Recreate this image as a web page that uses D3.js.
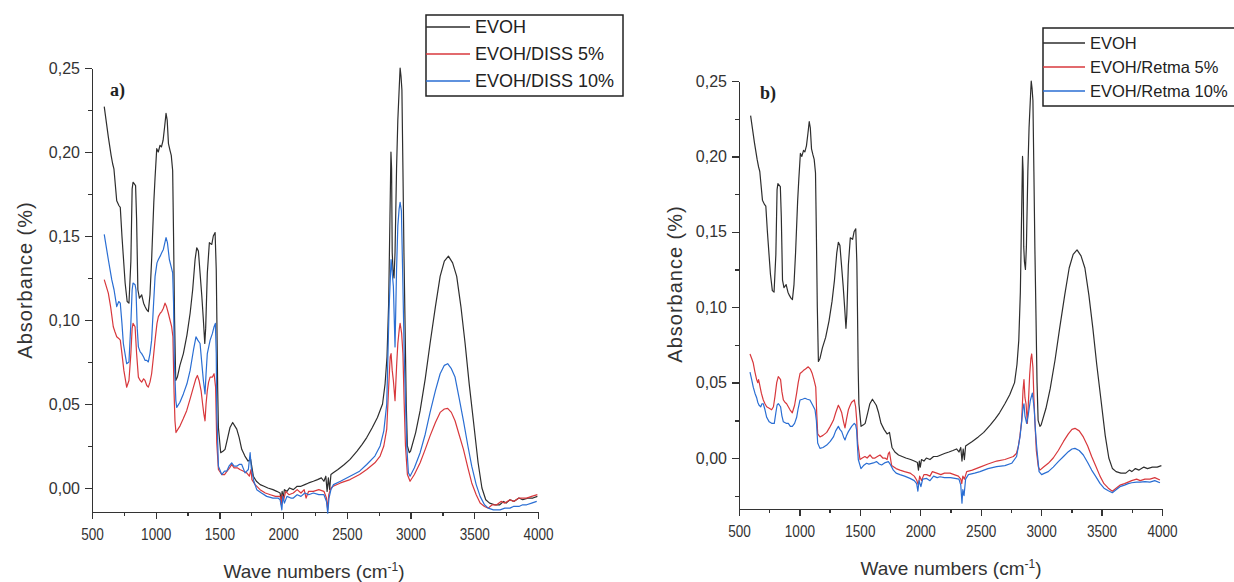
<!DOCTYPE html>
<html>
<head>
<meta charset="utf-8">
<script src="https://cdn.jsdelivr.net/npm/d3@7/dist/d3.min.js"></script>
<style>
  body { margin: 0; background: #fff; }
  svg { display: block; font-family: "Liberation Sans", Arial, sans-serif; }
  .axis path, .axis line { stroke: #333; stroke-width: 1.4; shape-rendering: crispEdges; }
  .axis text { fill: #333; font-size: 16px; }
  .xaxis text { font-size: 17px; transform-box: fill-box; transform-origin: center; transform: scaleX(0.8); }
  .spec { fill: none; stroke-width: 1.2; stroke-linejoin: round; }
</style>
</head>
<body>
<svg id="chart" width="1234" height="582"></svg>
<script>
// FTIR spectra: [wavenumber (cm-1), absorbance]
const evoh = [
  [596,0.227],[628,0.209],[650,0.198],[662,0.193],[672,0.190],[694,0.171],[712,0.168],[722,0.167],
  [735,0.150],[760,0.122],[776,0.111],[790,0.110],[805,0.135],[815,0.178],[822,0.182],[842,0.180],
  [850,0.160],[860,0.118],[872,0.113],[890,0.115],[905,0.110],[916,0.108],[930,0.106],[942,0.105],
  [955,0.115],[968,0.136],[985,0.170],[995,0.185],[1008,0.202],[1020,0.200],[1034,0.204],[1045,0.203],
  [1058,0.207],[1070,0.215],[1081,0.223],[1090,0.219],[1100,0.205],[1112,0.201],[1122,0.198],[1133,0.189],
  [1140,0.150],[1148,0.100],[1157,0.064],[1170,0.066],[1190,0.073],[1217,0.080],[1245,0.091],[1270,0.104],
  [1290,0.118],[1309,0.136],[1322,0.143],[1335,0.141],[1348,0.128],[1362,0.114],[1374,0.100],[1385,0.086],
  [1392,0.095],[1405,0.128],[1421,0.146],[1440,0.145],[1452,0.150],[1466,0.152],[1475,0.130],[1480,0.100],
  [1486,0.060],[1492,0.036],[1510,0.021],[1530,0.022],[1544,0.023],[1565,0.030],[1583,0.036],[1604,0.039],
  [1620,0.037],[1636,0.035],[1655,0.030],[1675,0.023],[1700,0.019],[1725,0.016],[1745,0.017],[1766,0.007],
  [1790,0.004],[1820,0.002],[1850,0.001],[1880,0.000],[1920,-0.001],[1950,-0.002],[1976,-0.003],[1985,-0.008],
  [1992,-0.002],[2000,-0.006],[2010,-0.001],[2030,-0.002],[2050,0.000],[2080,-0.001],[2110,0.001],[2140,0.001],
  [2170,0.002],[2200,0.003],[2237,0.004],[2270,0.005],[2300,0.006],[2320,0.004],[2335,0.007],[2345,-0.002],
  [2355,0.006],[2365,-0.001],[2375,0.008],[2393,0.009],[2430,0.011],[2480,0.014],[2525,0.017],[2580,0.022],
  [2620,0.026],[2656,0.030],[2700,0.036],[2740,0.042],[2780,0.050],[2800,0.062],[2815,0.078],[2828,0.110],
  [2838,0.160],[2846,0.200],[2851,0.190],[2856,0.140],[2862,0.130],[2870,0.125],[2878,0.140],[2890,0.190],
  [2900,0.219],[2912,0.240],[2918,0.250],[2925,0.245],[2932,0.237],[2940,0.190],[2948,0.140],[2957,0.096],
  [2966,0.050],[2975,0.025],[2990,0.021],[3000,0.022],[3040,0.033],[3075,0.046],[3115,0.065],[3153,0.086],
  [3195,0.108],[3232,0.126],[3265,0.135],[3297,0.138],[3330,0.134],[3362,0.126],[3395,0.108],[3428,0.086],
  [3460,0.062],[3493,0.040],[3530,0.015],[3560,0.000],[3590,-0.007],[3620,-0.009],[3660,-0.010],[3700,-0.010],
  [3730,-0.008],[3750,-0.009],[3780,-0.007],[3810,-0.008],[3850,-0.006],[3880,-0.007],[3920,-0.006],[3960,-0.006],
  [3995,-0.005]
];

const evohDiss5 = [
  [596,0.124],[628,0.116],[646,0.108],[667,0.096],[680,0.093],[694,0.090],[710,0.089],[722,0.088],
  [735,0.080],[750,0.070],[772,0.060],[790,0.064],[805,0.080],[815,0.095],[822,0.098],[838,0.096],
  [850,0.080],[864,0.066],[878,0.064],[890,0.063],[905,0.065],[916,0.064],[930,0.061],[942,0.060],
  [955,0.063],[968,0.068],[982,0.078],[995,0.088],[1010,0.098],[1021,0.102],[1035,0.104],[1047,0.105],
  [1060,0.107],[1073,0.110],[1085,0.108],[1099,0.104],[1112,0.100],[1125,0.096],[1135,0.090],[1144,0.057],
  [1151,0.040],[1159,0.033],[1175,0.035],[1191,0.037],[1215,0.041],[1243,0.046],[1270,0.053],[1296,0.060],
  [1315,0.065],[1327,0.067],[1340,0.064],[1356,0.058],[1368,0.050],[1378,0.044],[1387,0.040],[1395,0.050],
  [1405,0.058],[1415,0.063],[1427,0.066],[1445,0.066],[1458,0.068],[1470,0.060],[1479,0.027],[1492,0.011],
  [1518,0.008],[1540,0.008],[1560,0.010],[1580,0.012],[1596,0.014],[1615,0.012],[1640,0.012],[1660,0.011],
  [1690,0.010],[1714,0.009],[1735,0.007],[1748,0.011],[1755,0.005],[1780,0.002],[1819,-0.001],[1860,-0.003],
  [1900,-0.004],[1940,-0.005],[1976,-0.005],[1985,-0.010],[1992,-0.004],[2005,-0.007],[2020,-0.002],[2045,-0.004],
  [2080,-0.003],[2110,-0.001],[2140,-0.003],[2165,-0.001],[2180,-0.006],[2200,-0.002],[2237,-0.002],[2280,-0.001],
  [2320,-0.002],[2340,-0.006],[2350,-0.013],[2358,-0.004],[2375,0.000],[2393,0.001],[2450,0.003],[2525,0.005],
  [2600,0.008],[2656,0.011],[2720,0.015],[2761,0.019],[2790,0.025],[2813,0.035],[2828,0.060],[2840,0.078],
  [2847,0.080],[2856,0.070],[2865,0.064],[2878,0.052],[2890,0.072],[2900,0.086],[2912,0.095],[2918,0.098],
  [2930,0.092],[2940,0.080],[2950,0.050],[2960,0.025],[2975,0.008],[2996,0.004],[3030,0.008],[3075,0.015],
  [3115,0.023],[3153,0.031],[3195,0.039],[3232,0.045],[3265,0.047],[3291,0.0474],[3320,0.045],[3349,0.040],
  [3380,0.032],[3415,0.023],[3450,0.012],[3480,0.003],[3515,-0.004],[3546,-0.009],[3580,-0.011],[3610,-0.012],
  [3640,-0.010],[3676,-0.010],[3710,-0.008],[3740,-0.009],[3780,-0.007],[3810,-0.008],[3850,-0.006],[3880,-0.006],
  [3911,-0.006],[3950,-0.005],[3995,-0.004]
];

const evohDiss10 = [
  [596,0.151],[628,0.136],[655,0.124],[673,0.118],[694,0.108],[710,0.111],[722,0.110],[735,0.098],
  [746,0.086],[772,0.074],[790,0.075],[805,0.098],[815,0.118],[822,0.122],[838,0.121],[845,0.118],
  [855,0.095],[864,0.084],[878,0.081],[890,0.080],[905,0.078],[916,0.076],[930,0.076],[942,0.075],
  [955,0.080],[968,0.088],[982,0.108],[995,0.126],[1010,0.134],[1021,0.136],[1035,0.138],[1047,0.140],
  [1060,0.142],[1072,0.146],[1081,0.149],[1092,0.146],[1107,0.136],[1120,0.132],[1133,0.128],[1140,0.110],
  [1146,0.076],[1158,0.052],[1165,0.048],[1190,0.051],[1217,0.056],[1245,0.062],[1270,0.070],[1296,0.082],
  [1316,0.090],[1330,0.088],[1348,0.086],[1362,0.074],[1374,0.064],[1387,0.056],[1395,0.068],[1405,0.080],
  [1427,0.088],[1445,0.092],[1458,0.096],[1468,0.098],[1475,0.080],[1479,0.046],[1492,0.013],[1518,0.008],
  [1540,0.010],[1557,0.010],[1575,0.013],[1596,0.015],[1615,0.013],[1636,0.013],[1655,0.014],[1675,0.014],
  [1701,0.009],[1727,0.011],[1741,0.021],[1750,0.012],[1770,0.004],[1793,-0.001],[1830,-0.003],[1871,-0.005],
  [1920,-0.006],[1960,-0.006],[1976,-0.007],[1990,-0.013],[1998,-0.005],[2010,-0.009],[2030,-0.005],[2060,-0.006],
  [2080,-0.006],[2110,-0.004],[2140,-0.005],[2170,-0.003],[2200,-0.004],[2237,-0.003],[2280,-0.004],[2320,-0.004],
  [2340,-0.008],[2350,-0.015],[2360,-0.006],[2375,-0.001],[2395,0.002],[2450,0.004],[2525,0.007],[2600,0.010],
  [2656,0.014],[2720,0.019],[2761,0.025],[2790,0.034],[2813,0.050],[2831,0.106],[2847,0.136],[2856,0.128],
  [2865,0.120],[2878,0.084],[2890,0.130],[2900,0.156],[2910,0.166],[2918,0.170],[2928,0.165],[2940,0.120],
  [2950,0.080],[2957,0.060],[2970,0.025],[2983,0.009],[2996,0.007],[3030,0.012],[3075,0.021],[3115,0.032],
  [3153,0.045],[3195,0.058],[3232,0.068],[3265,0.073],[3291,0.074],[3320,0.071],[3349,0.066],[3380,0.054],
  [3415,0.040],[3450,0.025],[3480,0.013],[3515,0.002],[3546,-0.005],[3580,-0.010],[3610,-0.012],[3650,-0.013],
  [3702,-0.013],[3740,-0.012],[3780,-0.012],[3807,-0.011],[3850,-0.011],[3880,-0.010],[3911,-0.010],[3950,-0.009],
  [3990,-0.008]
];

const evohRetma5 = [
  [591,0.069],[605,0.066],[618,0.063],[632,0.057],[646,0.052],[655,0.050],[662,0.052],[670,0.049],
  [685,0.043],[701,0.0385],[715,0.036],[729,0.034],[750,0.033],[770,0.032],[785,0.034],[798,0.041],
  [812,0.050],[825,0.054],[835,0.053],[844,0.052],[855,0.044],[867,0.0385],[880,0.037],[894,0.036],
  [908,0.034],[922,0.032],[941,0.030],[960,0.035],[977,0.043],[990,0.050],[1005,0.056],[1020,0.057],
  [1032,0.058],[1050,0.059],[1073,0.0605],[1090,0.059],[1106,0.056],[1120,0.052],[1135,0.047],[1143,0.030],
  [1151,0.016],[1170,0.014],[1195,0.015],[1226,0.017],[1255,0.021],[1281,0.025],[1300,0.030],[1322,0.035],
  [1335,0.033],[1350,0.030],[1365,0.024],[1377,0.020],[1390,0.026],[1405,0.032],[1420,0.035],[1432,0.037],
  [1454,0.0385],[1465,0.034],[1474,0.025],[1482,0.010],[1501,-0.001],[1520,0.000],[1542,0.001],[1560,0.000],
  [1584,0.002],[1605,0.000],[1625,0.000],[1645,0.001],[1667,0.002],[1690,0.000],[1708,0.000],[1725,-0.001],
  [1736,0.003],[1745,0.004],[1763,-0.005],[1800,-0.007],[1832,-0.008],[1870,-0.009],[1915,-0.010],[1950,-0.012],
  [1970,-0.0146],[1984,-0.018],[1995,-0.012],[2010,-0.015],[2030,-0.011],[2053,-0.011],[2080,-0.012],[2100,-0.009],
  [2136,-0.010],[2170,-0.011],[2200,-0.010],[2246,-0.010],[2280,-0.011],[2315,-0.012],[2335,-0.014],[2343,-0.017],
  [2352,-0.012],[2365,-0.014],[2384,-0.009],[2430,-0.008],[2494,-0.006],[2560,-0.004],[2632,-0.002],[2700,-0.001],
  [2770,0.001],[2795,0.003],[2811,0.0075],[2825,0.015],[2839,0.025],[2850,0.045],[2858,0.052],[2866,0.040],
  [2875,0.036],[2886,0.023],[2894,0.036],[2905,0.055],[2915,0.066],[2922,0.069],[2932,0.060],[2940,0.040],
  [2949,0.023],[2960,0.005],[2977,-0.006],[2990,-0.008],[3020,-0.006],[3059,-0.0035],[3100,0.000],[3142,0.005],
  [3185,0.011],[3225,0.016],[3255,0.019],[3280,0.0197],[3315,0.018],[3349,0.014],[3385,0.008],[3418,0.001],
  [3450,-0.005],[3487,-0.012],[3520,-0.017],[3556,-0.020],[3589,-0.022],[3620,-0.020],[3652,-0.018],[3690,-0.017],
  [3720,-0.016],[3749,-0.015],[3790,-0.014],[3820,-0.015],[3859,-0.014],[3900,-0.014],[3940,-0.013],[3983,-0.0146]
];

const evohRetma10 = [
  [591,0.057],[605,0.052],[618,0.047],[632,0.043],[646,0.040],[655,0.037],[666,0.035],[680,0.034],
  [690,0.036],[701,0.036],[715,0.032],[729,0.027],[750,0.024],[770,0.023],[792,0.023],[805,0.030],
  [815,0.035],[825,0.036],[835,0.035],[844,0.034],[855,0.028],[867,0.024],[890,0.023],[908,0.023],
  [925,0.021],[941,0.021],[960,0.023],[977,0.027],[990,0.033],[1005,0.0385],[1025,0.039],[1046,0.0396],
  [1065,0.039],[1087,0.0385],[1110,0.035],[1129,0.032],[1140,0.025],[1151,0.010],[1170,0.0064],[1195,0.007],
  [1226,0.0086],[1255,0.011],[1281,0.014],[1300,0.018],[1322,0.021],[1335,0.019],[1350,0.0175],[1365,0.014],
  [1377,0.012],[1390,0.015],[1405,0.0175],[1432,0.021],[1454,0.023],[1465,0.022],[1473,0.0186],[1480,0.008],
  [1487,-0.001],[1509,-0.007],[1530,-0.005],[1556,-0.0035],[1575,-0.004],[1597,-0.0035],[1620,-0.003],[1639,-0.0024],
  [1660,-0.004],[1680,-0.0046],[1710,-0.003],[1736,-0.0024],[1750,-0.004],[1777,-0.008],[1800,-0.010],[1832,-0.011],
  [1870,-0.012],[1915,-0.0135],[1950,-0.015],[1970,-0.017],[1980,-0.022],[1990,-0.015],[2005,-0.019],[2020,-0.014],
  [2053,-0.0135],[2080,-0.015],[2110,-0.012],[2140,-0.013],[2163,-0.0124],[2200,-0.013],[2250,-0.013],[2287,-0.0135],
  [2320,-0.014],[2335,-0.018],[2345,-0.030],[2352,-0.021],[2362,-0.025],[2375,-0.014],[2398,-0.011],[2450,-0.010],
  [2494,-0.009],[2560,-0.007],[2632,-0.0057],[2700,-0.005],[2756,-0.0035],[2797,0.001],[2825,0.014],[2840,0.025],
  [2850,0.033],[2858,0.036],[2866,0.028],[2880,0.023],[2894,0.029],[2910,0.038],[2927,0.043],[2935,0.038],
  [2943,0.032],[2953,0.018],[2963,0.0075],[2983,-0.009],[3004,-0.011],[3030,-0.010],[3059,-0.009],[3100,-0.006],
  [3142,-0.0024],[3185,0.001],[3225,0.0042],[3255,0.006],[3280,0.0064],[3315,0.005],[3349,0.002],[3385,-0.003],
  [3418,-0.008],[3450,-0.012],[3487,-0.0168],[3520,-0.020],[3556,-0.0217],[3589,-0.023],[3620,-0.021],[3652,-0.019],
  [3690,-0.018],[3720,-0.017],[3749,-0.0164],[3790,-0.016],[3820,-0.016],[3859,-0.0157],[3900,-0.016],[3940,-0.015],
  [3983,-0.0164]
];

// Axis ticks
const wavenumberTicks = [500, 1000, 1500, 2000, 2500, 3000, 3500, 4000];
const wavenumberMinor = [750, 1250, 1750, 2250, 2750, 3250, 3750];
const absorbanceTicks = [0, 0.05, 0.10, 0.15, 0.20, 0.25];
const absorbanceMinor = [-0.025, 0.025, 0.075, 0.125, 0.175, 0.225];

// Legend labels
const labelsDiss = ["EVOH", "EVOH/DISS 5%", "EVOH/DISS 10%"];
const labelsRetma = ["EVOH", "EVOH/Retma 5%", "EVOH/Retma 10%"];
const seriesColors = ["#2e2e2e", "#d8383c", "#2a6ed3"];

const svg = d3.select("#chart");
const commaFmt = d => d3.format(".2f")(d).replace(".", ",");

function drawPanel(p) {
  const x = d3.scaleLinear().domain([500, 4000]).range([p.left, p.right]);
  const y = d3.scaleLinear().domain([p.yMin, 0.25]).range([p.bottom, p.top]);
  const g = svg.append("g");

  // minor ticks
  g.append("g").attr("class", "axis minor")
    .attr("transform", `translate(0,${p.bottom})`)
    .call(d3.axisBottom(x).tickValues(wavenumberMinor).tickSize(4).tickFormat(""))
    .call(a => a.select(".domain").remove());
  g.append("g").attr("class", "axis minor")
    .attr("transform", `translate(${p.left},0)`)
    .call(d3.axisLeft(y).tickValues(absorbanceMinor.filter(v => v >= p.yMin)).tickSize(4).tickFormat(""))
    .call(a => a.select(".domain").remove());

  // major axes
  g.append("g").attr("class", "axis xaxis")
    .attr("transform", `translate(0,${p.bottom})`)
    .call(d3.axisBottom(x).tickValues(wavenumberTicks).tickFormat(d3.format("d"))
      .tickSize(7).tickSizeOuter(0).tickPadding(9));
  g.append("g").attr("class", "axis")
    .attr("transform", `translate(${p.left},0)`)
    .call(d3.axisLeft(y).tickValues(absorbanceTicks).tickFormat(commaFmt).tickSize(7).tickSizeOuter(0).tickPadding(5));

  // spectra
  const line = d3.line().x(d => x(d[0])).y(d => y(d[1]));
  p.series.forEach((s, i) => {
    g.append("path").attr("class", "spec").attr("d", line(s)).attr("stroke", seriesColors[i]);
  });

  // axis titles
  g.append("text")
    .attr("transform", `translate(${p.yTitleX},${p.yTitleY}) rotate(-90)`)
    .attr("text-anchor", "middle")
    .attr("fill", "#333").attr("font-size", 20).attr("letter-spacing", 1)
    .text("Absorbance (%)");
  const xt = g.append("text")
    .attr("x", p.xTitleX).attr("y", p.xTitleY)
    .attr("text-anchor", "middle")
    .attr("fill", "#333").attr("font-size", 19);
  xt.append("tspan").text("Wave numbers (cm");
  xt.append("tspan").attr("font-size", 12).attr("dy", -7).text("-1");
  xt.append("tspan").attr("dy", 7).text(")");

  // panel tag
  g.append("text")
    .attr("x", p.tagX).attr("y", p.tagY)
    .attr("font-family", "'Liberation Serif', 'Times New Roman', serif")
    .attr("font-weight", "bold").attr("font-size", 18).attr("fill", "#222")
    .text(p.tag);

  // legend
  const lg = g.append("g");
  lg.append("rect")
    .attr("x", p.legX).attr("y", p.legY).attr("width", p.legW).attr("height", p.legH)
    .attr("fill", "#fff").attr("stroke", "#222").attr("stroke-width", 1.5);
  p.labels.forEach((lab, i) => {
    const yy = p.legY + p.legRow0 + i * p.legStep;
    lg.append("line")
      .attr("x1", p.legX).attr("x2", p.legX + p.legLine)
      .attr("y1", yy).attr("y2", yy)
      .attr("stroke", seriesColors[i]).attr("stroke-width", 1.3);
    lg.append("text")
      .attr("x", p.legX + p.legLine + 5).attr("y", yy)
      .attr("dominant-baseline", "central")
      .attr("font-size", p.legFont).attr("fill", "#222")
      .text(lab);
  });
}

drawPanel({
  left: 92, right: 538, top: 68, bottom: 512, yMin: -0.0143,
  series: [evoh, evohDiss5, evohDiss10], labels: labelsDiss, tag: "a)",
  tagX: 110, tagY: 96, yTitleX: 32, yTitleY: 280, xTitleX: 314, xTitleY: 578,
  legX: 426, legY: 15, legW: 197, legH: 81, legRow0: 12, legStep: 27, legLine: 44, legFont: 18
});

drawPanel({
  left: 739, right: 1162, top: 81, bottom: 509, yMin: -0.0338,
  series: [evoh, evohRetma5, evohRetma10], labels: labelsRetma, tag: "b)",
  tagX: 760, tagY: 99, yTitleX: 682, yTitleY: 284, xTitleX: 951, xTitleY: 575,
  legX: 1043, legY: 28, legW: 200, legH: 78, legRow0: 15, legStep: 24, legLine: 42, legFont: 16.5
});
</script>
</body>
</html>
